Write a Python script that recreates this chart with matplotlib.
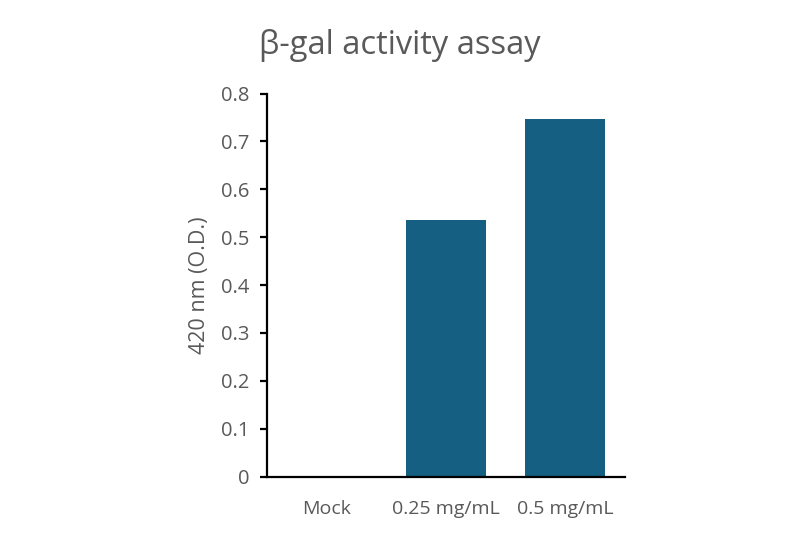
import matplotlib
matplotlib.use("Agg")
import matplotlib.pyplot as plt

categories = ["Mock", "0.25 mg/mL", "0.5 mg/mL"]
values = [0.0, 0.536, 0.747]
yticks = [0, 0.1, 0.2, 0.3, 0.4, 0.5, 0.6, 0.7, 0.8]
ytick_labels = ["0", "0.1", "0.2", "0.3", "0.4", "0.5", "0.6", "0.7", "0.8"]

plt.rcParams['font.family'] = ['Open Sans', 'DejaVu Sans']
grey = "#595959"

fig = plt.figure(figsize=(8, 5.35), dpi=100)
ax = fig.add_axes([0.334, 0.1093, 0.447, 0.7158])
x = range(len(categories))
ax.bar(x, values, width=0.67, color="#156082")
ax.set_xlim(-0.5, 2.5)
ax.set_ylim(0, 0.8)
ax.set_yticks(yticks)
ax.set_yticklabels(ytick_labels)
ax.set_xticks(list(x))
ax.set_xticklabels(categories)
for s in ["top", "right"]:
    ax.spines[s].set_visible(False)
for s in ["left", "bottom"]:
    ax.spines[s].set_linewidth(1.6)
    ax.spines[s].set_color("black")
ax.tick_params(axis="y", direction="out", length=5, width=1.6, color="black",
               labelsize=14.5, labelcolor=grey, pad=8)
ax.tick_params(axis="x", length=0, labelsize=14, labelcolor=grey, pad=17)
ax.set_ylabel("420 nm (O.D.)", fontsize=15.5, color=grey, labelpad=8)
fig.text(0.5, 0.915, "β-gal activity assay", ha="center", va="center",
         fontsize=23.5, color=grey)
fig.savefig("out.png", dpi=100)
